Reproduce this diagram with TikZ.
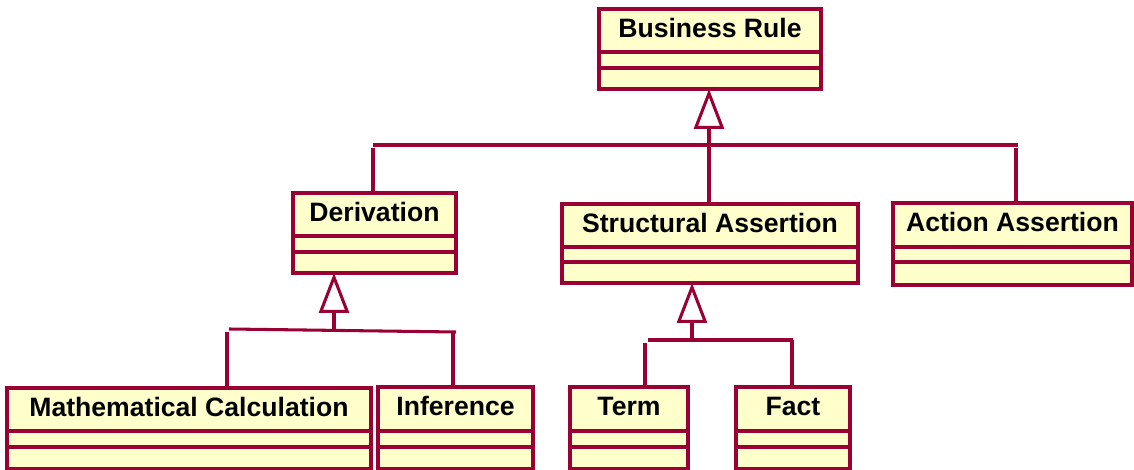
\documentclass[tikz,border=0pt]{standalone}
\usepackage{fontspec}
\setmainfont{Liberation Sans}
\usetikzlibrary{arrows.meta,fit,calc}
\definecolor{umlborder}{RGB}{153,0,51}
\definecolor{umlfill}{RGB}{255,255,204}

% A UML class box: name, left, top, right, bottom, first divider, second divider, class name
\newcommand\umlclass[8]{%
  \node[classbox, fit={(#2,#3) (#4,#5)}] (#1) {};
  \draw[umlline] (#1.west |- 0,#6) -- (#1.east |- 0,#6);
  \draw[umlline] (#1.west |- 0,#7) -- (#1.east |- 0,#7);
  \node[classname] (#1-t) at ({(#2+#4)/2},{#3+28.5}) {#8};
}

\begin{document}
\begin{tikzpicture}[x=1bp, y=-1bp,
  umlline/.style={draw=umlborder, line width=3.05bp},
  classbox/.style={umlline, fill=umlfill, inner sep=0pt, outer sep=0pt, rectangle},
  classname/.style={anchor=base, inner sep=0pt, font=\fontsize{26.6bp}{30bp}\selectfont\bfseries},
  gen/.style={umlline, -{Triangle[open, length=40bp, width=30bp, fill=white]}},
]
\useasboundingbox (0,0) rectangle (1134,470);

% classes
\umlclass{br}{599}{9}{821}{89}{52}{68}{Business Rule}
\umlclass{der}{293}{193}{456}{273}{236}{252}{Derivation}
\umlclass{sa}{562}{204}{858}{283}{247}{262}{Structural Assertion}
\umlclass{aa}{893}{203}{1132}{285}{247}{262}{Action Assertion}
\umlclass{mc}{7}{388}{371}{468.5}{431}{447}{Mathematical Calculation}
\umlclass{inf}{378}{387}{533}{468.5}{431}{447}{Inference}
\umlclass{term}{570}{387}{688}{468.5}{431}{447}{Term}
\umlclass{fact}{736}{387}{850}{468.5}{431}{447}{Fact}

% generalization: Business Rule
\coordinate (busA1) at (373,145);
\coordinate (busA2) at (1018,145);
\draw[umlline] (busA1) -- (busA2);
\draw[gen] (sa.north -| 709,0) -- (709,0 |- br.south);
\draw[umlline] (373,148) -- (373,0 |- der.north);
\draw[umlline] (1016,148) -- (1016,0 |- aa.north);

% generalization: Derivation
\coordinate (busB1) at (229,329);
\coordinate (busB2) at (456,332);
\coordinate (stemB) at (334,330.4);
\draw[umlline] (busB1) -- (busB2);
\draw[gen] (stemB) -- (334,0 |- der.south);
\draw[umlline] (227,332) -- (227,0 |- mc.north);
\draw[umlline] (453,332) -- (453,0 |- inf.north);

% generalization: Structural Assertion
\coordinate (busC1) at (648,340);
\coordinate (busC2) at (793,340);
\coordinate (stemC) at (692,340);
\draw[umlline] (busC1) -- (busC2);
\draw[gen] (stemC) -- (692,0 |- sa.south);
\draw[umlline] (645,343) -- (645,0 |- term.north);
\draw[umlline] (792,340) -- (792,0 |- fact.north);
\end{tikzpicture}
\end{document}
